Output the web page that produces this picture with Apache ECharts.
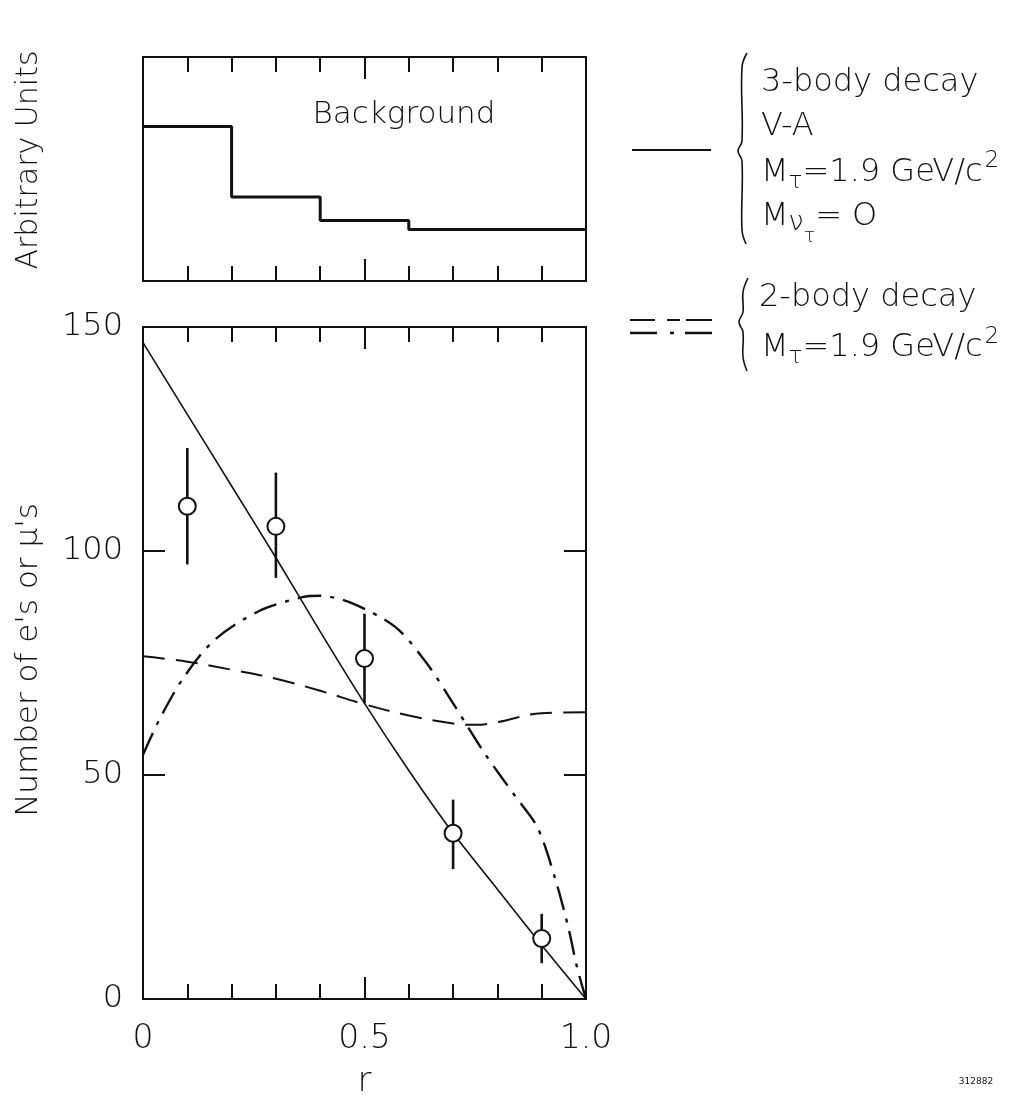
<!DOCTYPE html>
<html>
<head>
<meta charset="utf-8">
<script src="https://cdn.jsdelivr.net/npm/echarts@6/dist/echarts.min.js"></script>
<style>
  html,body{margin:0;padding:0;background:#fff;}
  #chart{width:1014px;height:1099px;}
</style>
</head>
<body>
<div id="chart"></div>
<script>
  // background histogram (top panel)
  const bgEdges = [0, 0.2, 0.4, 0.6, 1.0];
  const bgValues = [6.9, 3.75, 2.7, 2.3];

  // measured points with error bars
  const pointR = [0.1, 0.3, 0.5, 0.7, 0.9];
  const pointN = [110, 105.5, 76, 37, 13.5];
  const pointLow = [97, 94, 66, 29, 8];
  const pointHigh = [123, 117.5, 86, 44.5, 19];

  // 3-body decay, V-A (solid)
  const solidR = [0, 0.1, 0.2, 0.3, 0.4, 0.5, 0.6, 0.7, 0.8, 0.9, 1.0];
  const solidN = [146.5, 130.5, 114.5, 98.5, 82, 66, 51, 37, 24.5, 12, 0];

  // 2-body decay (dashed)
  const dashR = [0, 0.1, 0.2, 0.3, 0.4, 0.5, 0.6, 0.7, 0.75, 0.8, 0.9, 1.0];
  const dashN = [76.5, 75.3, 73.5, 71.5, 68.8, 65.8, 63.3, 61.5, 61.2, 61.8, 63.8, 64];

  // 2-body decay (dash-dot)
  const dotR = [0, 0.035, 0.09, 0.16, 0.26, 0.36, 0.4, 0.47, 0.57, 0.64, 0.7, 0.77, 0.84, 0.89, 0.93, 0.96, 0.98, 1.0];
  const dotN = [54.5, 62, 71.5, 80, 86.5, 89.7, 90, 88.4, 83, 75, 66, 55, 45.3, 38.4, 27, 16, 7, 0];

  const yTicks = [0, 50, 100, 150];
  const xTickText = { 0: '0', 0.5: '0.5', 1: '1.0' };

  const FONT = 'DejaVu Sans';
  const INK = '#111';

  const zip = (a, b) => a.map((v, i) => [v, b[i]]);
  const histData = bgEdges.map((e, i) => [e, i < bgValues.length ? bgValues[i] : bgValues[bgValues.length - 1]]);

  const tickAxis = (grid, pos, labels) => ({
    type: 'value',
    gridIndex: grid,
    position: pos,
    min: 0,
    max: 1,
    interval: 0.5,
    axisLine: { show: false, onZero: false },
    axisTick: { show: true, inside: true, length: 22, lineStyle: { color: INK, width: 2 } },
    minorTick: { show: true, splitNumber: 5, length: 15, lineStyle: { color: INK, width: 2 } },
    splitLine: { show: false },
    axisLabel: labels ? {
      show: true,
      margin: 24,
      fontSize: 33,
      fontFamily: FONT,
      fontWeight: 200,
      color: INK,
      formatter: v => xTickText[v] !== undefined ? xTickText[v] : ''
    } : { show: false }
  });

  // curly brace drawn as a polyline
  const brace = (x, top, mid, bot) => ({
    type: 'polyline',
    shape: {
      smooth: 0.4,
      points: [[x + 5, top], [x, top + 14], [x, mid - 10], [x - 4, mid], [x, mid + 10], [x, bot - 14], [x + 4, bot]]
    },
    style: { stroke: INK, lineWidth: 1.6, fill: null }
  });

  const supText = (x, y, padBottom) => ({
    type: 'text', x: x, y: y,
    style: {
      text: '{m|M}{s|τ}{m|=1.9 GeV/c}{p|2}', fontSize: 32, fontFamily: FONT, fontWeight: 200, fill: INK, verticalAlign: 'middle',
      rich: {
        m: { fontSize: 32, fontFamily: FONT, fontWeight: 200 },
        s: { fontSize: 23, fontFamily: FONT, fontWeight: 200, padding: [18, 0, 0, 0] },
        p: { fontSize: 23, fontFamily: FONT, fontWeight: 200, padding: [0, 0, padBottom, 2] }
      }
    }
  });

  const myChart = echarts.init(document.getElementById('chart'));

  const option = {
    backgroundColor: '#fff',
    animation: false,
    grid: [
      { left: 143, top: 57, width: 443, height: 224, show: true, borderColor: INK, borderWidth: 2, outerBoundsMode: 'none' },
      { left: 143, top: 327, width: 443, height: 672, show: true, borderColor: INK, borderWidth: 2, outerBoundsMode: 'none' }
    ],
    xAxis: [
      tickAxis(0, 'bottom', false),
      tickAxis(0, 'top', false),
      Object.assign(tickAxis(1, 'bottom', true), {
        name: 'r',
        nameLocation: 'middle',
        nameGap: 66,
        nameTextStyle: { fontSize: 34, fontFamily: FONT, fontWeight: 200, color: INK }
      }),
      tickAxis(1, 'top', false)
    ],
    yAxis: [
      { type: 'value', gridIndex: 0, min: 0, max: 10, show: false, axisLine: { onZero: false } },
      {
        type: 'value', gridIndex: 1, position: 'left', min: 0, max: 150, interval: 50,
        axisLine: { show: false, onZero: false },
        axisTick: { show: true, inside: true, length: 22, lineStyle: { color: INK, width: 2 } },
        splitLine: { show: false },
        axisLabel: {
          margin: 20, fontSize: 32, fontFamily: FONT, fontWeight: 200, color: INK,
          formatter: v => yTicks.indexOf(v) >= 0 ? String(v) : ''
        }
      },
      {
        type: 'value', gridIndex: 1, position: 'right', min: 0, max: 150, interval: 50,
        axisLine: { show: false, onZero: false },
        axisTick: { show: true, inside: true, length: 22, lineStyle: { color: INK, width: 2 } },
        splitLine: { show: false },
        axisLabel: { show: false }
      }
    ],
    series: [
      {
        name: 'Background',
        type: 'line',
        xAxisIndex: 0,
        yAxisIndex: 0,
        step: 'end',
        symbol: 'none',
        lineStyle: { color: INK, width: 3 },
        data: histData
      },
      {
        name: '3-body decay',
        type: 'line',
        xAxisIndex: 2,
        yAxisIndex: 1,
        symbol: 'none',
        smooth: 0.2,
        lineStyle: { color: INK, width: 1.6 },
        data: zip(solidR, solidN)
      },
      {
        name: '2-body dashed',
        type: 'line',
        xAxisIndex: 2,
        yAxisIndex: 1,
        symbol: 'none',
        smooth: 0.4,
        lineStyle: { color: INK, width: 2, type: [22, 11] },
        data: zip(dashR, dashN)
      },
      {
        name: '2-body dash-dot',
        type: 'line',
        xAxisIndex: 2,
        yAxisIndex: 1,
        symbol: 'none',
        smooth: 0.3,
        lineStyle: { color: INK, width: 2.4, type: [24, 9, 4, 9] },
        data: zip(dotR, dotN)
      },
      {
        name: 'errors',
        type: 'custom',
        xAxisIndex: 2,
        yAxisIndex: 1,
        z: 3,
        renderItem: (params, api) => {
          const r = api.value(0);
          const a = api.coord([r, api.value(1)]);
          const b = api.coord([r, api.value(2)]);
          return {
            type: 'line',
            shape: { x1: a[0], y1: a[1], x2: b[0], y2: b[1] },
            style: { stroke: INK, lineWidth: 2.6 }
          };
        },
        data: pointR.map((r, i) => [r, pointLow[i], pointHigh[i]])
      },
      {
        name: 'data',
        type: 'scatter',
        xAxisIndex: 2,
        yAxisIndex: 1,
        z: 4,
        symbol: 'circle',
        symbolSize: 17,
        itemStyle: { color: '#fff', opacity: 1, borderColor: INK, borderWidth: 2 },
        data: zip(pointR, pointN)
      }
    ],
    graphic: [
      {
        type: 'text', x: 29, y: 160, rotation: Math.PI / 2,
        style: { text: 'Arbitrary Units', fontSize: 30, fontFamily: FONT, fontWeight: 200, fill: INK, align: 'center', verticalAlign: 'middle' }
      },
      {
        type: 'text', x: 29, y: 660, rotation: Math.PI / 2,
        style: { text: "Number of e's or μ's", fontSize: 31, fontFamily: FONT, fontWeight: 200, fill: INK, align: 'center', verticalAlign: 'middle' }
      },
      {
        type: 'text', x: 404, y: 115,
        style: { text: 'Background', fontSize: 31, fontFamily: FONT, fontWeight: 200, fill: INK, align: 'center', verticalAlign: 'middle' }
      },
      // legend keys
      { type: 'line', shape: { x1: 632, y1: 150, x2: 711, y2: 150 }, style: { stroke: INK, lineWidth: 2 } },
      { type: 'line', shape: { x1: 630, y1: 320, x2: 712, y2: 320 }, style: { stroke: INK, lineWidth: 2, lineDash: [25, 12, 13, 6, 30, 100] } },
      { type: 'line', shape: { x1: 630, y1: 333, x2: 712, y2: 333 }, style: { stroke: INK, lineWidth: 2.4, lineDash: [27, 13, 4, 11, 30, 100] } },
      brace(742, 53, 151, 244),
      brace(743, 278, 322, 371),
      {
        type: 'text', x: 761, y: 83,
        style: { text: '3-body decay', fontSize: 32, fontFamily: FONT, fontWeight: 200, fill: INK, verticalAlign: 'middle' }
      },
      {
        type: 'text', x: 761, y: 127,
        style: { text: 'V-A', fontSize: 32, fontFamily: FONT, fontWeight: 200, fill: INK, verticalAlign: 'middle' }
      },
      supText(761, 173, 24),
      {
        type: 'text', x: 761, y: 217,
        style: {
          text: '{m|M}{n|ν}{s|τ}{m|= O}', fontSize: 32, fontFamily: FONT, fontWeight: 200, fill: INK, verticalAlign: 'middle',
          rich: {
            m: { fontSize: 32, fontFamily: FONT, fontWeight: 200 },
            n: { fontSize: 27, fontFamily: FONT, fontWeight: 200, padding: [12, 0, 0, 0] },
            s: { fontSize: 19, fontFamily: FONT, fontWeight: 200, padding: [40, 0, 0, 0] }
          }
        }
      },
      {
        type: 'text', x: 759, y: 298,
        style: { text: '2-body decay', fontSize: 32, fontFamily: FONT, fontWeight: 200, fill: INK, verticalAlign: 'middle' }
      },
      supText(761, 348, 22),
      {
        type: 'text', x: 976, y: 1082,
        style: { text: '312882', fontSize: 9, fontFamily: FONT, fill: INK, align: 'center', verticalAlign: 'middle' }
      }
    ]
  };

  myChart.setOption(option);
</script>
</body>
</html>
